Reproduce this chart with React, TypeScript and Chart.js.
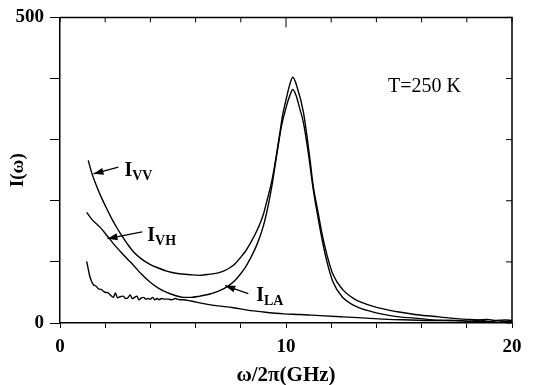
import React, { useEffect, useRef } from "react";
import { Chart, registerables } from "chart.js";

Chart.register(...registerables);

// ---- data ----
const vvX = [1.25, 1.4, 1.64, 1.8, 2.08, 2.3, 2.53, 2.75, 2.97, 3.24, 3.6, 3.98, 4.35, 4.72, 5.2, 5.75, 6.2, 6.64, 7.0, 7.23, 7.5, 7.75, 7.96, 8.2, 8.4, 8.7, 9.0, 9.15, 9.37, 9.5, 9.72, 9.85, 10.0, 10.15, 10.3, 10.5, 10.77, 11.07, 11.2, 11.4, 11.6, 11.8, 12.07, 12.5, 13.0, 13.55, 14.2, 15.0, 15.7, 16.5, 17.3, 18.0, 18.5, 18.9, 19.3, 19.7, 20.0];
const vvY = [266, 246, 222, 208, 186, 170, 155, 142, 130, 117, 105, 96, 90, 85, 81, 79, 78, 80, 82, 85, 90, 97, 106, 117, 129, 150, 178, 199, 232, 258, 309, 340, 365, 388, 402, 385, 345, 265, 225, 185, 145, 113, 80, 55, 40, 31, 24, 18, 14, 11, 8, 6, 5, 6, 4, 5, 4];

const vhX = [1.18, 1.4, 1.79, 2.1, 2.38, 2.67, 3.0, 3.24, 3.6, 3.98, 4.35, 4.72, 5.1, 5.46, 5.8, 6.19, 6.6, 6.93, 7.23, 7.5, 7.75, 7.96, 8.2, 8.4, 8.7, 9.0, 9.2, 9.37, 9.6, 9.8, 10.0, 10.15, 10.3, 10.45, 10.6, 10.77, 11.0, 11.2, 11.4, 11.6, 11.8, 12.07, 12.5, 13.0, 13.55, 14.2, 15.0, 15.7, 16.5, 17.3, 18.0, 18.5, 18.9, 19.3, 19.7, 20.0];
const vhY = [181, 170, 156, 142, 129, 117, 104, 95, 80, 67, 57, 50, 45, 42, 42, 44, 47, 51, 56, 62, 70, 79, 91, 104, 127, 159, 190, 223, 277, 322, 352, 370, 382, 372, 352, 328, 275, 220, 176, 136, 102, 68, 42, 29, 21, 15, 10, 8, 5, 4, 3, 2, 3, 1, 2, 1, 2];

const laX = [1.18, 1.25, 1.32, 1.4, 1.47, 1.6, 1.7, 1.82, 1.92, 2.02, 2.1, 2.22, 2.36, 2.45, 2.55, 2.65, 2.8, 2.9, 3.0, 3.1, 3.2, 3.3, 3.4, 3.5, 3.6, 3.7, 3.8, 3.9, 4.0, 4.1, 4.2, 4.3, 4.4, 4.5, 4.65, 4.8, 4.95, 5.1, 5.3, 5.46, 5.8, 6.19, 6.6, 7.0, 7.67, 8.3, 9.0, 9.9, 10.6, 11.5, 12.5, 13.55, 14.5, 15.5, 16.5, 17.5, 18.2, 18.6, 19.0, 19.4, 19.7, 20.0];
const laY = [101, 88, 76, 68, 63, 60, 56, 55, 52, 50, 50, 46, 42, 49, 41, 43, 44, 40, 41, 46, 40, 42, 44, 38, 41, 42, 39, 40, 39, 42, 38, 40, 38, 40, 39, 39, 38, 40, 38, 38, 36, 33, 30, 28, 25, 21, 18, 15, 14, 12, 10, 8, 6, 5, 4, 4, 3, 5, 2, 4, 2, 3];

const xTickLabels = ["0", "10", "20"];
const yTickLabels = ["0", "500"];

const FONT = "'Liberation Serif', 'Times New Roman', serif";

const toPoints = (xs: number[], ys: number[]) => xs.map((x, i) => ({ x, y: ys[i] }));

const decorPlugin = {
  id: "decor",
  afterDraw(chart: any) {
    const { ctx, chartArea, scales } = chart;
    const xs = scales.x;
    const ys = scales.y;
    ctx.save();
    ctx.strokeStyle = "#000";
    ctx.lineWidth = 1.5;
    // frame top and right
    ctx.beginPath();
    ctx.moveTo(chartArea.left, chartArea.top);
    ctx.lineTo(chartArea.right, chartArea.top);
    ctx.lineTo(chartArea.right, chartArea.bottom);
    ctx.stroke();
    // inward ticks top
    ctx.lineWidth = 1;
    xs.ticks.forEach((t: any) => {
      const px = xs.getPixelForValue(t.value);
      const len = t.value === 10 ? 10 : 5;
      ctx.beginPath();
      ctx.moveTo(px, chartArea.top);
      ctx.lineTo(px, chartArea.top + len);
      ctx.stroke();
    });
    // inward ticks right
    ys.ticks.forEach((t: any) => {
      const py = ys.getPixelForValue(t.value);
      ctx.beginPath();
      ctx.moveTo(chartArea.right, py);
      ctx.lineTo(chartArea.right - 6, py);
      ctx.stroke();
    });

    // labels
    const label = (x: number, y: number, sub: string) => {
      const px = xs.getPixelForValue(x);
      const py = ys.getPixelForValue(y);
      ctx.fillStyle = "#000";
      ctx.textBaseline = "alphabetic";
      ctx.textAlign = "left";
      ctx.font = `bold 20px ${FONT}`;
      ctx.fillText("I", px, py + 7);
      const w = ctx.measureText("I").width;
      ctx.font = `bold 14px ${FONT}`;
      ctx.fillText(sub, px + w, py + 11);
    };
    const arrow = (x1: number, y1: number, x2: number, y2: number) => {
      const ax = xs.getPixelForValue(x1);
      const ay = ys.getPixelForValue(y1);
      const bx = xs.getPixelForValue(x2);
      const by = ys.getPixelForValue(y2);
      ctx.strokeStyle = "#000";
      ctx.lineWidth = 1.3;
      ctx.beginPath();
      ctx.moveTo(ax, ay);
      ctx.lineTo(bx, by);
      ctx.stroke();
      const ang = Math.atan2(by - ay, bx - ax);
      const L = 10;
      const W = 3.5;
      ctx.beginPath();
      ctx.moveTo(bx, by);
      ctx.lineTo(bx - L * Math.cos(ang) + W * Math.sin(ang), by - L * Math.sin(ang) - W * Math.cos(ang));
      ctx.lineTo(bx - L * Math.cos(ang) - W * Math.sin(ang), by - L * Math.sin(ang) + W * Math.cos(ang));
      ctx.closePath();
      ctx.fillStyle = "#000";
      ctx.fill();
    };
    label(2.85, 252, "VV");
    arrow(2.58, 255, 1.48, 244);
    label(3.86, 145, "VH");
    arrow(3.64, 149, 2.1, 138);
    label(8.68, 48, "LA");
    arrow(8.33, 48, 7.31, 61);

    ctx.font = `20px ${FONT}`;
    ctx.fillStyle = "#000";
    ctx.textAlign = "left";
    ctx.textBaseline = "middle";
    ctx.fillText("T=250 K", xs.getPixelForValue(14.51), ys.getPixelForValue(386));
    ctx.restore();
  },
};

export default function App() {
  const ref = useRef<HTMLCanvasElement>(null);
  useEffect(() => {
    if (!ref.current) return;
    const lineDs = (data: any[]) => ({
      data,
      borderColor: "#000",
      borderWidth: 1.4,
      pointRadius: 0,
      cubicInterpolationMode: "monotone" as const,
      fill: false,
    });
    const chart = new Chart(ref.current, {
      type: "line",
      data: {
        datasets: [
          { label: "I_VV", ...lineDs(toPoints(vvX, vvY)) },
          { label: "I_VH", ...lineDs(toPoints(vhX, vhY)) },
          { label: "I_LA", ...lineDs(toPoints(laX, laY)) },
        ],
      },
      options: {
        responsive: false,
        animation: false,
        parsing: false as any,
        layout: { padding: { top: 16, right: 23, left: 0, bottom: 0 } },
        plugins: { legend: { display: false }, tooltip: { enabled: false } },
        scales: {
          x: {
            type: "linear",
            min: 0,
            max: 20,
            afterFit: (s: any) => { s.height = 62; },
            grid: { drawOnChartArea: false, drawTicks: true, tickLength: 5, color: "#000", lineWidth: 1 },
            border: { display: true, color: "#000", width: 1.5 },
            ticks: {
              stepSize: 2,
              padding: 8,
              color: "#000",
              maxRotation: 0,
              autoSkip: false,
              font: { family: FONT, size: 19, weight: "bold" },
              callback: (v: any) => (xTickLabels.includes(String(v)) ? String(v) : ""),
            },
            title: {
              display: true,
              text: "ω/2π(GHz)",
              color: "#000",
              font: { family: FONT, size: 21, weight: "bold", lineHeight: 1 },
              padding: { top: 0, bottom: -1 },
            },
          },
          y: {
            type: "linear",
            min: 0,
            max: 500,
            afterFit: (s: any) => { s.width = 60; },
            grid: { drawOnChartArea: false, drawTicks: true, tickLength: 10, color: "#000", lineWidth: 1 },
            border: { display: true, color: "#000", width: 1.5 },
            ticks: {
              stepSize: 100,
              padding: 6,
              color: "#000",
              autoSkip: false,
              font: { family: FONT, size: 19, weight: "bold" },
              callback: (v: any) => (yTickLabels.includes(String(v)) ? String(v) : ""),
            },
            title: {
              display: true,
              text: "I(ω)",
              color: "#000",
              font: { family: FONT, size: 19, weight: "bold", lineHeight: 1 },
              padding: { top: 9, bottom: 0 },
            },
          },
        },
      },
      plugins: [decorPlugin],
    });
    return () => chart.destroy();
  }, []);
  return (
    <div style={{ position: "fixed", left: 0, top: 0, width: 535, height: 385, background: "#fff" }}>
      <canvas ref={ref} width={535} height={385} style={{ display: "block" }} />
    </div>
  );
}
